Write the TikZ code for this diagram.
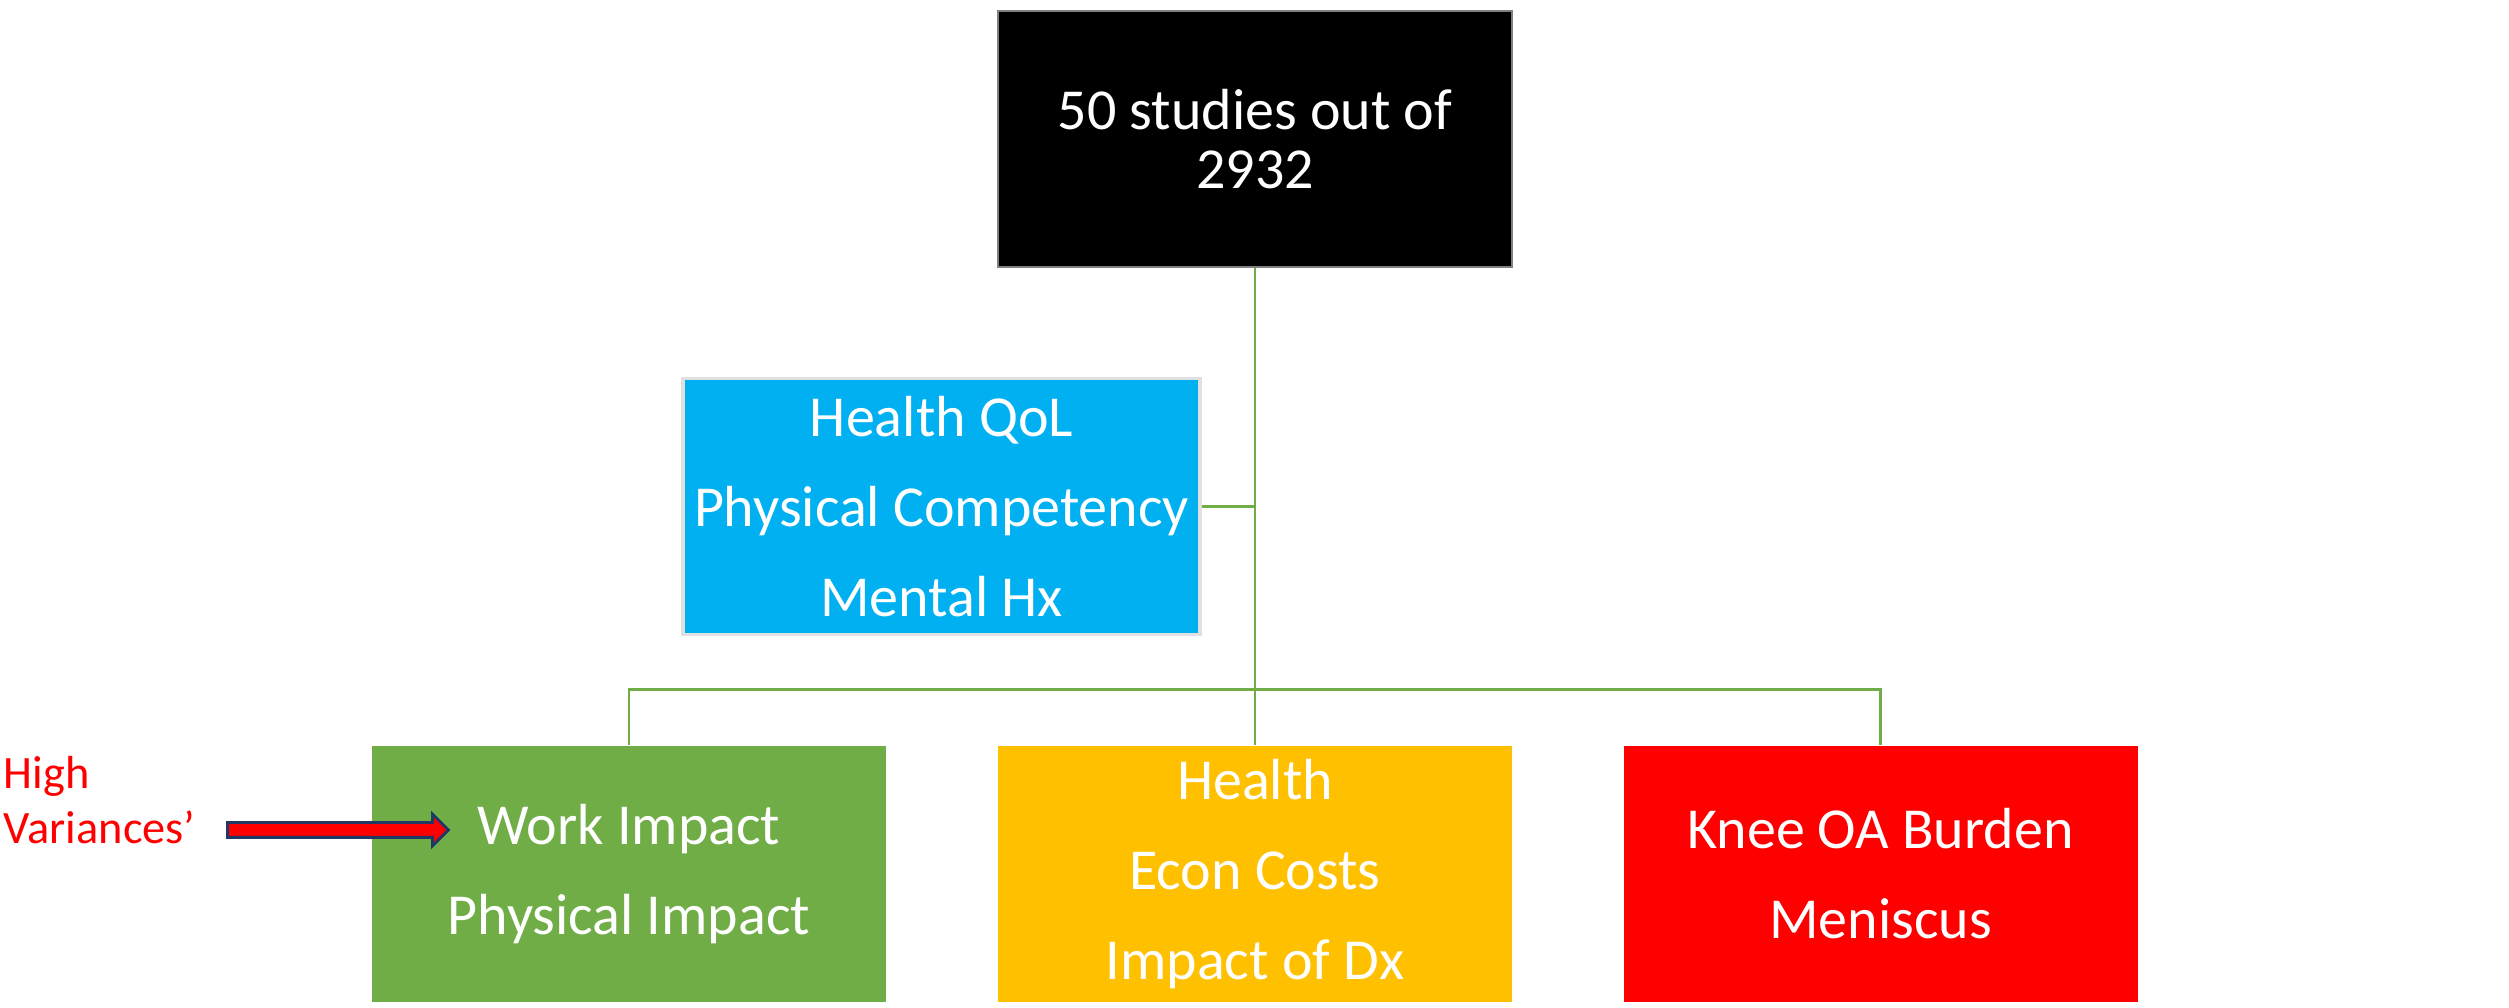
\documentclass[tikz,border=0pt]{standalone}
\usepackage{xcolor}
\usepackage{fontspec}
\setmainfont{Carlito}
\usepackage{tikz}
\usetikzlibrary{shapes, arrows, positioning}

\definecolor{skyblue}{HTML}{00B0F0}
\definecolor{leafgreen}{HTML}{70AD47}
\definecolor{amber}{HTML}{FFC000}
\definecolor{navyline}{HTML}{1F3864}

\begin{document}
\begin{tikzpicture}[node distance=1cm, >=latex]
\tikzstyle{block} = [rectangle, minimum height=2.56cm, minimum width=5.14cm, inner sep=0pt, text=white, align=center, font=\fontsize{16.5}{25.6}\selectfont]
\tikzstyle{link} = [leafgreen, line width=0.7pt]

\useasboundingbox (0,0) rectangle (25.09,10.08);

\node[block, fill=black, draw=gray, line width=0.4pt, font=\fontsize{16.5}{17}\selectfont] (studies) at (12.55,8.69) {50 studies out of\\2932};
\node[block, fill=skyblue, draw=black!12, line width=1pt, minimum width=5.17cm] (outcomes) at (9.415,5.015) {Health QoL\\Physical Competency\\Mental Hx};
\node[block, fill=leafgreen] (work) at (6.29,1.34) {Work Impact\\Physical Impact};
\node[block, fill=amber] (costs) at (12.55,1.34) {Health\\Econ Costs\\Impact of Dx};
\node[block, fill=red] (burden) at (18.805,1.34) {Knee OA Burden\\Meniscus};

% tree lines
\draw[link] (studies) -- (costs);
\draw[link] (outcomes.east) -- (outcomes.east -| studies.south);
\draw[link] (work.north) -- ++(0,0.56) -| (burden.north);

% side note
\node[text=red, align=left, anchor=north west, inner sep=0pt, font=\fontsize{13.2}{15.5}\selectfont] (hivar) at (0.03,2.52) {High\\Variances’};
\node[single arrow, draw=navyline, fill=red, line width=0.8pt, inner xsep=0pt, inner ysep=0.06cm, single arrow head extend=0.085cm, minimum height=2.21cm, anchor=tail] (varrow) at (2.26,1.78) {};
\end{tikzpicture}
\end{document}
